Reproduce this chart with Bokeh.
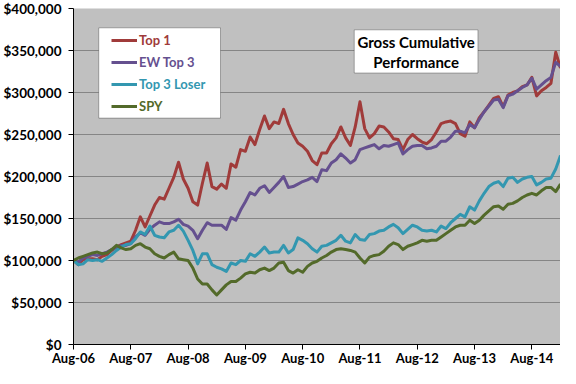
from bokeh.plotting import figure
from bokeh.models import (ColumnDataSource, Range1d, FixedTicker, NumeralTickFormatter,
                          Legend, LegendItem, BoxAnnotation, Label)
from bokeh.embed import file_html
from bokeh.resources import INLINE

# monthly observations, Aug-06 (0) .. Feb-15 (102)
months = list(range(103))
tick_pos = [0, 12, 24, 36, 48, 60, 72, 84, 96]
tick_labels = ["Aug-06", "Aug-07", "Aug-08", "Aug-09", "Aug-10", "Aug-11", "Aug-12", "Aug-13", "Aug-14"]
y_ticks = [0, 50000, 100000, 150000, 200000, 250000, 300000, 350000, 400000]

series_names = ["Top 1", "EW Top 3", "Top 3 Loser", "SPY"]

# values in $ thousands
top1_k = [100, 95, 101, 102, 102, 101, 105, 107, 112, 116, 119, 121, 123, 136, 152, 140, 153, 166, 175, 173,
          186, 199, 217, 197, 186, 170, 166, 192, 216, 188, 185, 191, 186, 215, 211, 232, 230, 247, 238, 256,
          272, 257, 265, 263, 280, 263, 250, 240, 236, 230, 219, 214, 228, 228, 239, 246, 259, 246, 237, 259,
          289, 257, 246, 251, 260, 259, 253, 245, 244, 232, 244, 250, 245, 241, 239, 244, 253, 263, 265, 266,
          263, 251, 248, 265, 258, 270, 277, 285, 293, 295, 283, 297, 300, 302, 307, 309, 318, 296, 302, 306,
          311, 348, 329]
ew_k = [100, 98, 103, 105, 107, 106, 108, 110, 113, 116, 118, 118, 120, 128, 133, 130, 137, 142, 146, 144,
        144, 146, 149, 143, 141, 136, 126, 136, 145, 142, 142, 142, 137, 151, 148, 160, 170, 181, 178, 186,
        189, 181, 187, 193, 200, 187, 188, 191, 194, 196, 199, 194, 208, 207, 216, 220, 227, 222, 216, 220,
        232, 234, 236, 238, 233, 237, 236, 238, 240, 227, 232, 236, 237, 237, 233, 234, 236, 242, 242, 247,
        254, 254, 252, 262, 258, 268, 277, 284, 291, 292, 282, 296, 298, 302, 306, 309, 317, 304, 309, 314,
        318, 336, 331]
loser_k = [100, 95, 96, 101, 100, 101, 99, 103, 107, 112, 116, 119, 120, 126, 134, 131, 141, 130, 128, 127,
           134, 136, 142, 135, 124, 112, 96, 108, 108, 95, 92, 90, 87, 97, 95, 100, 99, 108, 105, 110,
           116, 109, 110, 110, 118, 109, 113, 127, 124, 120, 114, 110, 117, 118, 121, 124, 130, 123, 121, 131,
           125, 124, 131, 132, 135, 136, 140, 143, 139, 132, 137, 142, 140, 136, 135, 136, 134, 141, 138, 145,
           150, 155, 152, 164, 160, 171, 180, 188, 192, 194, 188, 198, 199, 193, 197, 199, 200, 190, 193, 197,
           198, 209, 225]
spy_k = [100, 103, 105, 107, 109, 110, 108, 109, 113, 118, 115, 113, 114, 118, 120, 116, 114, 108, 105, 103,
         107, 110, 102, 101, 100, 91, 78, 72, 72, 65, 59, 65, 71, 75, 75, 79, 84, 86, 85, 89,
         91, 88, 91, 97, 98, 88, 85, 89, 86, 93, 97, 99, 103, 106, 110, 113, 114, 113, 112, 110,
         103, 97, 104, 106, 107, 111, 117, 121, 119, 113, 117, 119, 121, 124, 123, 124, 124, 128, 132, 136,
         140, 142, 142, 148, 144, 148, 154, 159, 164, 165, 161, 167, 168, 171, 175, 178, 180, 178, 183, 187,
         187, 182, 191]

colors = ["#A03B3A", "#65508F", "#3397B0", "#536A2A"]

src = ColumnDataSource(dict(
    m=months,
    top1=[v * 1000 for v in top1_k],
    ew=[v * 1000 for v in ew_k],
    loser=[v * 1000 for v in loser_k],
    spy=[v * 1000 for v in spy_k],
))

p = figure(width=560, height=368, output_backend="svg", toolbar_location=None,
           x_range=Range1d(0, 102), y_range=Range1d(0, 400000),
           min_border_left=72, min_border_right=0, min_border_top=8, min_border_bottom=21)

p.background_fill_color = "#C0C0C0"
p.border_fill_color = "white"
p.outline_line_color = None

p.xgrid.visible = False
p.ygrid.grid_line_color = "#858585"
p.ygrid.grid_line_width = 1
p.yaxis.ticker = FixedTicker(ticks=y_ticks)
p.yaxis.formatter = NumeralTickFormatter(format="$0,0")
p.xaxis.ticker = FixedTicker(ticks=tick_pos)
p.xaxis.major_label_overrides = {t: l for t, l in zip(tick_pos, tick_labels)}

for ax in (p.xaxis, p.yaxis):
    ax.axis_line_color = "black"
    ax.axis_line_width = 1
    ax.major_tick_line_color = "black"
    ax.major_tick_in = 0
    ax.major_tick_out = 5
    ax.minor_tick_out = 0
    ax.minor_tick_in = 0
    ax.major_label_text_font = "Lato"
    ax.major_label_text_font_style = "bold"
    ax.major_label_text_font_size = "13px"
    ax.major_label_text_color = "black"
    ax.axis_label = None
    ax.axis_label_standoff = 0
p.yaxis.major_label_text_font_size = "13.5px"
p.yaxis.major_label_standoff = 7
p.xaxis.major_label_standoff = 0

renderers = []
for col, c in zip(["top1", "ew", "loser", "spy"], colors):
    r = p.line(x="m", y=col, source=src, line_color=c, line_width=3, line_join="round")
    renderers.append(r)

# legend box
p.add_layout(BoxAnnotation(left=5.29, right=30.79, top=377000, bottom=269500,
                           fill_color="white", fill_alpha=1, line_color="black", line_width=1))
row_y = [296, 274, 252, 230]
for r, name, c, yl in zip(renderers, series_names, colors, row_y):
    lg = Legend(items=[LegendItem(label=name, renderers=[r])], location=(38, yl),
                background_fill_alpha=0, border_line_color=None, padding=0, margin=0, spacing=0,
                glyph_width=26, glyph_height=16, label_height=16, label_standoff=2,
                label_text_font="Lato", label_text_font_style="bold", label_text_font_size="13px",
                label_text_color=c, label_text_baseline="middle")
    p.add_layout(lg)

# title box
p.add_layout(BoxAnnotation(left=58.8, right=84.71, top=374600, bottom=323200,
                           fill_color="white", fill_alpha=1, line_color="black", line_width=1))
for txt, yv in (("Gross Cumulative", 360000), ("Performance", 335900)):
    p.add_layout(Label(x=71.76, y=yv, text=txt, text_align="center", text_baseline="middle",
                       text_font="Lato", text_font_style="bold", text_font_size="15px",
                       text_color="black"))

open("out.html", "w").write(file_html(p, INLINE))
